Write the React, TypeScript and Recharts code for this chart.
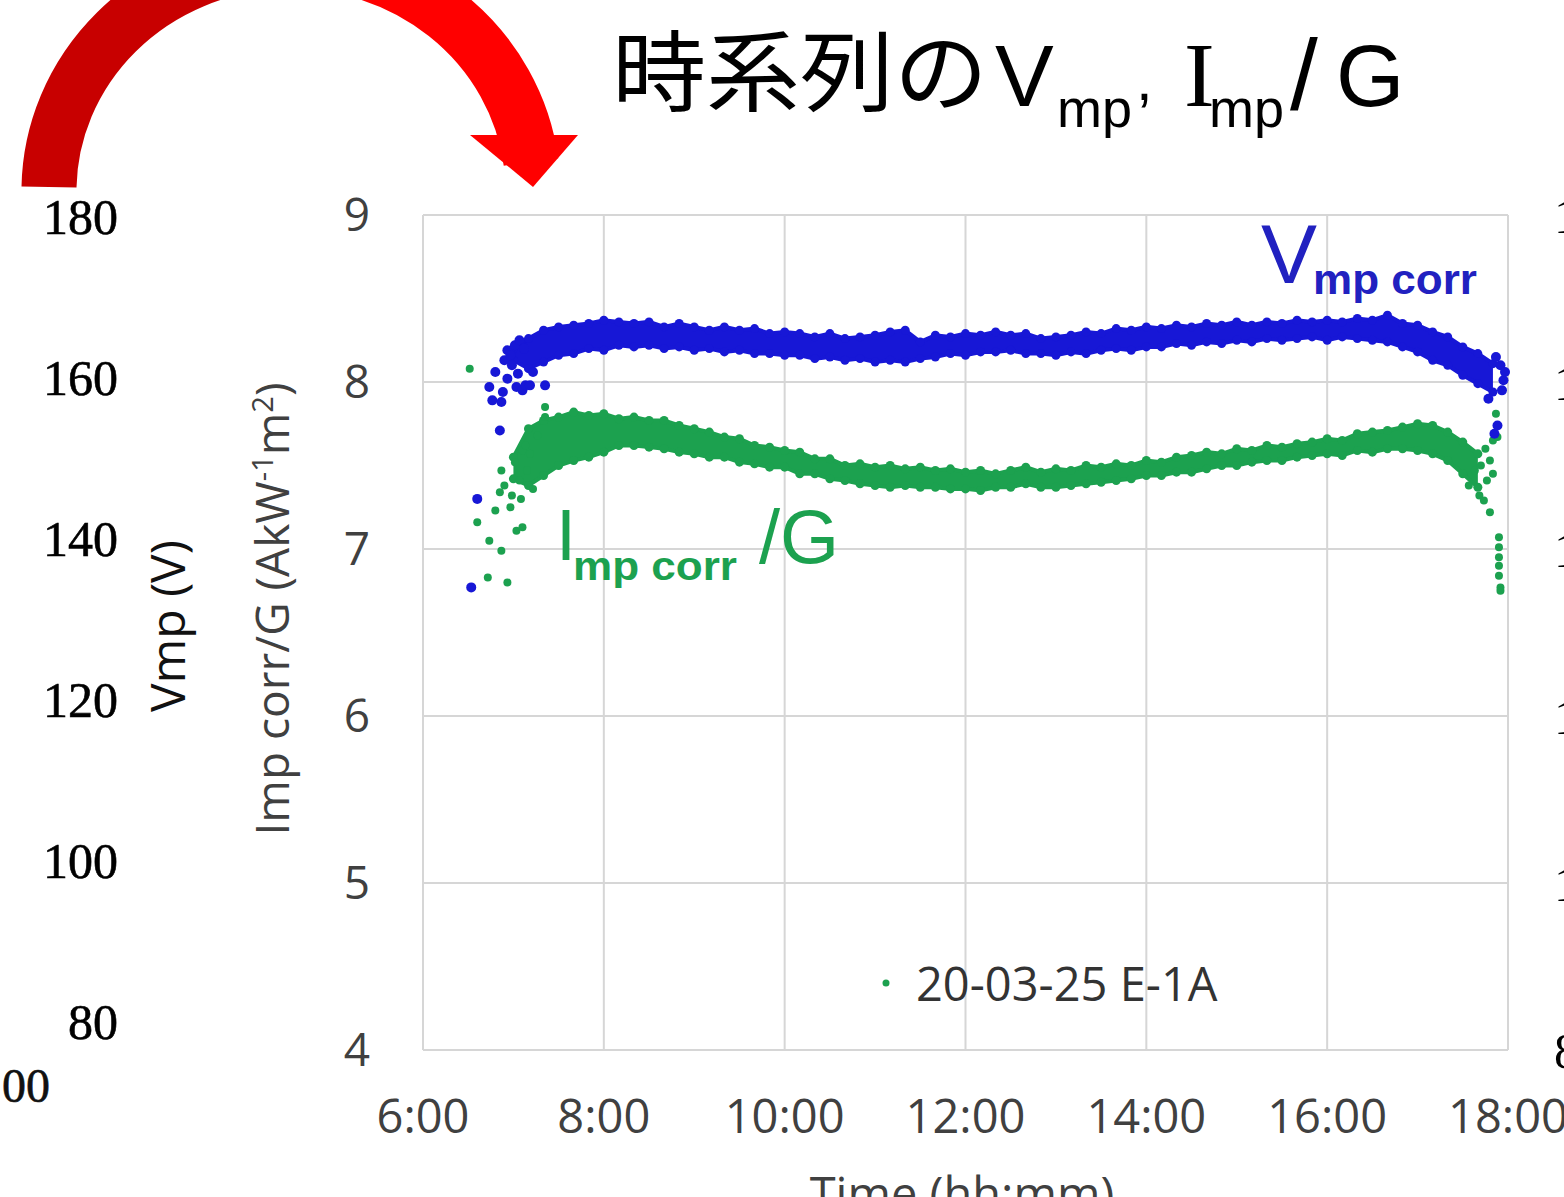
import React from 'react';
import { ComposedChart, Area, Scatter, XAxis, YAxis, CartesianGrid, Legend, Customized } from 'recharts';

// time in minutes since midnight
const bandTimes = [420, 430, 440, 450, 460, 470, 480, 490, 500, 510, 520, 530, 540, 550, 560, 570, 580, 590, 600, 610, 620, 630, 640, 650, 660, 670, 680, 690, 700, 710, 720, 730, 740, 750, 760, 770, 780, 790, 800, 810, 820, 830, 840, 850, 860, 870, 880, 890, 900, 910, 920, 930, 940, 950, 960, 970, 980, 990, 1000, 1010, 1020, 1030, 1040, 1050, 1060, 1070];

// Vmp corr band (upper / lower edge)
const vmpHi = [8.20, 8.26, 8.31, 8.33, 8.34, 8.35, 8.37, 8.36, 8.35, 8.36, 8.33, 8.35, 8.33, 8.31, 8.33, 8.31, 8.32, 8.29, 8.30, 8.29, 8.27, 8.29, 8.26, 8.27, 8.28, 8.30, 8.31, 8.24, 8.28, 8.27, 8.29, 8.28, 8.30, 8.28, 8.29, 8.26, 8.27, 8.28, 8.30, 8.29, 8.32, 8.31, 8.33, 8.32, 8.34, 8.33, 8.35, 8.34, 8.36, 8.34, 8.36, 8.35, 8.37, 8.36, 8.37, 8.36, 8.38, 8.37, 8.40, 8.35, 8.34, 8.30, 8.27, 8.21, 8.17, 8.11];
const vmpLo = [8.13, 8.08, 8.12, 8.16, 8.17, 8.20, 8.19, 8.22, 8.21, 8.22, 8.20, 8.21, 8.19, 8.20, 8.18, 8.19, 8.17, 8.17, 8.16, 8.16, 8.14, 8.15, 8.13, 8.14, 8.12, 8.13, 8.12, 8.14, 8.15, 8.17, 8.16, 8.18, 8.18, 8.19, 8.17, 8.17, 8.16, 8.18, 8.17, 8.19, 8.20, 8.19, 8.21, 8.21, 8.23, 8.22, 8.24, 8.23, 8.25, 8.24, 8.26, 8.25, 8.26, 8.27, 8.25, 8.27, 8.26, 8.25, 8.24, 8.21, 8.18, 8.13, 8.10, 8.04, 7.99, 7.94];

// Imp corr / G band (upper / lower edge), 7:00 - 17:40
const impHi = [7.55, 7.72, 7.77, 7.79, 7.82, 7.80, 7.81, 7.78, 7.79, 7.77, 7.77, 7.74, 7.72, 7.70, 7.67, 7.66, 7.62, 7.61, 7.59, 7.58, 7.54, 7.54, 7.50, 7.51, 7.49, 7.50, 7.48, 7.49, 7.47, 7.48, 7.46, 7.47, 7.45, 7.47, 7.49, 7.46, 7.48, 7.47, 7.50, 7.49, 7.51, 7.50, 7.53, 7.52, 7.55, 7.56, 7.58, 7.57, 7.60, 7.59, 7.62, 7.61, 7.63, 7.64, 7.66, 7.65, 7.69, 7.70, 7.71, 7.73, 7.75, 7.74, 7.70, 7.64, 7.57];
const impLo = [7.42, 7.38, 7.44, 7.50, 7.53, 7.55, 7.58, 7.62, 7.62, 7.61, 7.60, 7.58, 7.57, 7.55, 7.55, 7.52, 7.51, 7.49, 7.49, 7.45, 7.45, 7.42, 7.41, 7.39, 7.38, 7.37, 7.38, 7.37, 7.37, 7.36, 7.36, 7.35, 7.37, 7.37, 7.39, 7.37, 7.37, 7.38, 7.39, 7.40, 7.41, 7.42, 7.44, 7.44, 7.46, 7.46, 7.48, 7.50, 7.50, 7.52, 7.53, 7.53, 7.55, 7.56, 7.57, 7.56, 7.59, 7.58, 7.60, 7.60, 7.59, 7.57, 7.53, 7.45, 7.37];

// scattered points (sunrise / sunset)
const vmpOutT = [392, 396, 404, 406, 408, 411, 412, 413, 414, 416, 416, 418, 419, 421, 422, 423, 424, 426, 427, 428, 431, 433, 441, 1067, 1071, 1072, 1073, 1075, 1076, 1077, 1078];
const vmpOutV = [6.77, 7.30, 7.97, 7.89, 8.06, 7.71, 7.88, 7.94, 8.13, 8.02, 8.19, 8.16, 8.10, 8.22, 7.97, 8.05, 8.25, 7.95, 8.20, 7.98, 7.98, 8.06, 7.98, 7.90, 7.69, 8.15, 7.74, 8.10, 7.95, 8.01, 8.06];
const impOutT = [391, 396, 403, 404, 408, 411, 412, 412, 414, 416, 418, 419, 421, 422, 424, 425, 426, 426, 428, 429, 431, 433, 436, 441, 441, 1054, 1058, 1061, 1062, 1064, 1065, 1066, 1068, 1068, 1070, 1070, 1072, 1073, 1073, 1074, 1074, 1074, 1074, 1074, 1075, 1075];
const impOutV = [8.08, 7.16, 6.83, 7.05, 7.23, 7.34, 6.99, 7.47, 7.38, 6.80, 7.25, 7.32, 7.52, 7.11, 7.41, 7.30, 7.13, 7.59, 7.62, 7.47, 7.57, 7.36, 7.68, 7.85, 7.79, 7.38, 7.47, 7.32, 7.50, 7.29, 7.60, 7.41, 7.53, 7.22, 7.65, 7.45, 7.81, 7.74, 7.67, 7.07, 7.01, 6.95, 6.90, 6.84, 6.77, 6.75];

const timeTicks = [360, 480, 600, 720, 840, 960, 1080];
const impTicks = [4, 5, 6, 7, 8, 9];
const vmpTicks = [80, 100, 120, 140, 160, 180];
const legendLabel = '20-03-25 E-1A';

const BLUE = '#1717D6';
const GREEN = '#1CA14F';
const SANS = "'Open Sans', 'Noto Sans', sans-serif";
const SERIF = "'Liberation Serif', 'DejaVu Serif', serif";
const ARIAL = "'Liberation Sans', Arial, sans-serif";

const vmpBand = bandTimes.map((t, i) => ({ t, lo: vmpLo[i], hi: vmpHi[i] }));
const impBand = bandTimes.slice(0, impHi.length).map((t, i) => ({ t, lo: impLo[i], hi: impHi[i] }));
const vmpEdge = [...vmpBand.map((d) => ({ t: d.t, v: d.hi })), ...vmpBand.map((d) => ({ t: d.t, v: d.lo }))];
const impEdge = [...impBand.map((d) => ({ t: d.t, v: d.hi })), ...impBand.map((d) => ({ t: d.t, v: d.lo }))];
const vmpOut = vmpOutT.map((t, i) => ({ t, v: vmpOutV[i] }));
const impOut = impOutT.map((t, i) => ({ t, v: impOutV[i] }));

const fmtTime = (m: number) => `${Math.round(m / 60)}:00`;

const dot = (color: string, r: number) => (props: any) =>
  props.cx == null ? <g /> : <circle cx={props.cx} cy={props.cy} r={r} fill={color} />;

const Decorations = () => (
  <g>
    <defs>
      <linearGradient id="arrowGrad" gradientUnits="userSpaceOnUse" x1={230} y1={0} x2={370} y2={0}>
        <stop offset="0" stopColor="#C80000" />
        <stop offset="1" stopColor="#FF0000" />
      </linearGradient>
    </defs>
    <path d="M 49 187 A 242 230 0 0 1 531 162" fill="none" stroke="url(#arrowGrad)" strokeWidth={55} />
    <polygon points="470,135 578,135 533,187" fill="#FF0000" />

    {/* title */}
    <text x={612} y={104} fontFamily="'Noto Sans CJK JP', sans-serif" fontSize={88} textLength={376} lengthAdjust="spacingAndGlyphs" fill="#000">時系列の</text>
    <text x={995} y={106} fontFamily={ARIAL} fontSize={88} fill="#000">V</text>
    <text x={1057} y={127} fontFamily={ARIAL} fontSize={54} fill="#000">mp</text>
    <text x={1136} y={100} fontFamily={ARIAL} fontSize={60} fill="#000">,</text>
    <text x={1184} y={106} fontFamily={SERIF} fontSize={92} fill="#000">I</text>
    <text x={1209} y={127} fontFamily={ARIAL} fontSize={54} fill="#000">mp</text>
    <text x={1290} y={110} fontFamily={ARIAL} fontSize={100} fontWeight={300} fill="#000">/</text>
    <text x={1336} y={106} fontFamily={ARIAL} fontSize={88} fill="#000">G</text>

    {/* series labels */}
    <text x={1261} y={283} fontFamily={ARIAL} fontSize={84} fill="#2121C0">V</text>
    <text x={1313} y={294} fontFamily={ARIAL} fontWeight="bold" fontSize={42} fill="#2121C0" textLength={164} lengthAdjust="spacingAndGlyphs">mp corr</text>
    <text x={556} y={560} fontFamily={ARIAL} fontSize={72} fill={GREEN}>I</text>
    <text x={573} y={580} fontFamily={ARIAL} fontWeight="bold" fontSize={40} fill={GREEN} textLength={164} lengthAdjust="spacingAndGlyphs">mp corr</text>
    <text x={759} y={563} fontFamily={ARIAL} fontSize={76} fill={GREEN}>/G</text>

    {/* axis titles */}
    <text x={289} y={609} transform="rotate(-90 289 609)" textAnchor="middle" fontFamily={SANS} fontSize={46} fill="#404040">
      Imp corr/G (AkW<tspan dy={-16} fontSize={29}>-1</tspan><tspan dy={16}>m</tspan><tspan dy={-16} fontSize={29}>2</tspan><tspan dy={16}>)</tspan>
    </text>
    <text x={185} y={626} transform="rotate(-90 185 626)" textAnchor="middle" fontFamily={SANS} fontSize={48} fill="#111">Vmp (V)</text>
    <text x={962} y={1211} textAnchor="middle" fontFamily={SANS} fontSize={47} fill="#404040">Time (hh:mm)</text>
    <text x={50} y={1102} textAnchor="end" fontFamily={SERIF} fontSize={48} fill="#111" stroke="#111" strokeWidth={0.6}>18:00</text>
  </g>
);

const LegendContent = () => (
  <div style={{ display: 'flex', alignItems: 'center', fontFamily: SANS, fontSize: 47, color: '#333', whiteSpace: 'nowrap', lineHeight: '64px' }}>
    <svg width={20} height={20} style={{ marginRight: 20 }}>
      <circle cx={10} cy={10} r={3.5} fill={GREEN} />
    </svg>
    <span>{legendLabel}</span>
  </div>
);

export default function App() {
  return (
    <div style={{ position: 'absolute', left: 0, top: 0, width: 1564, height: 1197, background: '#fff', overflow: 'hidden' }}>
      <ComposedChart width={1564} height={1197} margin={{ top: 215, right: 0, bottom: 0, left: 0 }}>
        <CartesianGrid yAxisId="imp" stroke="#D6D6D6" strokeWidth={2} />
        <XAxis
          dataKey="t"
          type="number"
          domain={[360, 1080]}
          ticks={timeTicks}
          interval={0}
          tickFormatter={fmtTime}
          axisLine={false}
          tickLine={false}
          tickSize={0}
          tickMargin={50}
          height={147}
          tick={{ fontFamily: SANS, fontSize: 47, fill: '#404040' }}
        />
        <YAxis
          yAxisId="imp"
          orientation="left"
          type="number"
          domain={[4, 9]}
          ticks={impTicks}
          interval={0}
          width={80}
          axisLine={false}
          tickLine={false}
          tickSize={0}
          tickMargin={53}
          tick={{ fontFamily: SANS, fontSize: 46, fill: '#404040' }}
        />
        <YAxis
          yAxisId="vmp"
          orientation="left"
          type="number"
          domain={[76.4, 180.12]}
          allowDataOverflow
          ticks={vmpTicks}
          interval={0}
          width={343}
          axisLine={false}
          tickLine={false}
          tickSize={0}
          tickMargin={225}
          tick={{ fontFamily: SERIF, fontSize: 50, fill: '#000', stroke: '#000', strokeWidth: 0.6 }}
        />
        <YAxis
          yAxisId="right"
          orientation="right"
          type="number"
          domain={[80, 180]}
          allowDataOverflow
          ticks={vmpTicks}
          interval={0}
          width={56}
          axisLine={false}
          tickLine={false}
          tickSize={0}
          tickMargin={46}
          tick={{ fontFamily: SERIF, fontSize: 50, fill: '#000', textAnchor: 'start' }}
        />
        <Area yAxisId="imp" data={impBand} dataKey={(d: any) => [d.lo, d.hi]} type="linear" stroke={GREEN} strokeWidth={4} fill={GREEN} fillOpacity={1} dot={false} activeDot={false} isAnimationActive={false} />
        <Area yAxisId="imp" data={vmpBand} dataKey={(d: any) => [d.lo, d.hi]} type="linear" stroke={BLUE} strokeWidth={4} fill={BLUE} fillOpacity={1} dot={false} activeDot={false} isAnimationActive={false} />
        <Scatter yAxisId="imp" data={impEdge} dataKey="v" shape={dot(GREEN, 4.5)} isAnimationActive={false} />
        <Scatter yAxisId="imp" data={vmpEdge} dataKey="v" shape={dot(BLUE, 4.5)} isAnimationActive={false} />
        <Scatter yAxisId="imp" data={impOut} dataKey="v" shape={dot(GREEN, 4)} isAnimationActive={false} />
        <Scatter yAxisId="imp" data={vmpOut} dataKey="v" shape={dot(BLUE, 5)} isAnimationActive={false} />
        <Legend
          verticalAlign="middle"
          layout="horizontal"
          align="center"
          content={LegendContent}
          wrapperStyle={{ left: 876, top: 951, width: 420, height: 64 }}
        />
        <Customized component={Decorations} />
      </ComposedChart>
    </div>
  );
}
